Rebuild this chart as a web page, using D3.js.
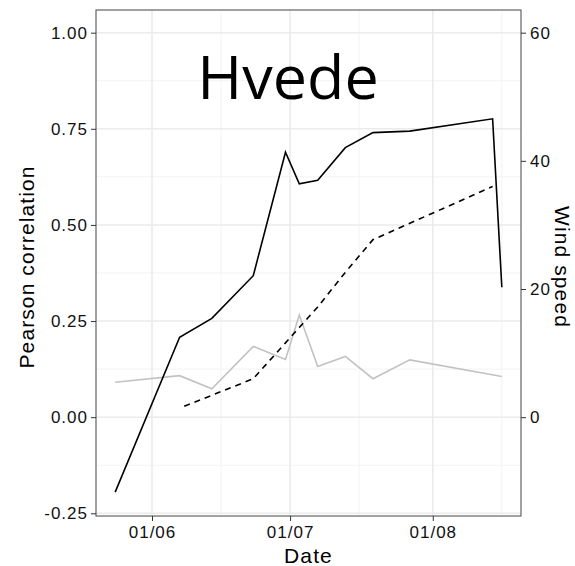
<!DOCTYPE html>
<html>
<head>
<meta charset="utf-8">
<script src="https://cdn.jsdelivr.net/npm/d3@7"></script>
<style>
  body { margin: 0; background: #fff; }
  text { font-family: "Liberation Sans", Arial, sans-serif; }
</style>
</head>
<body>
<svg id="chart" width="575" height="566"></svg>
<script>
// correlation series (left axis)
var corrDates = ["2017-05-24","2017-06-07","2017-06-14","2017-06-23","2017-06-30","2017-07-03",
                 "2017-07-07","2017-07-13","2017-07-19","2017-07-27","2017-08-14","2017-08-16"];
var corrBlack = [-0.195, 0.208, 0.257, 0.368, 0.689, 0.607, 0.616, 0.701, 0.740, 0.744, 0.776, 0.338];

var grayDates = ["2017-05-24","2017-06-07","2017-06-14","2017-06-23","2017-06-30","2017-07-03",
                 "2017-07-07","2017-07-13","2017-07-19","2017-07-27","2017-08-16"];
var corrGray = [0.091, 0.108, 0.074, 0.184, 0.150, 0.266, 0.132, 0.158, 0.100, 0.149, 0.106];

// wind speed series (right axis)
var windDates = ["2017-06-08","2017-06-23","2017-06-30","2017-07-07","2017-07-13","2017-07-19","2017-08-14"];
var windVals = [1.7, 6.0, 11.6, 17.2, 22.6, 27.7, 36.0];

var leftTicks = [-0.25, 0, 0.25, 0.5, 0.75, 1];
var leftMinor = [-0.125, 0.125, 0.375, 0.625, 0.875];
var rightTicks = [0, 20, 40, 60];
var xTicks = ["2017-06-01","2017-07-01","2017-08-01"];
var xMinor = ["2017-06-16","2017-07-16","2017-08-16"];

var parse = d3.timeParse("%Y-%m-%d");
var margin = { top: 10, left: 96, right: 54, bottom: 50 };
var width = 575 - margin.left - margin.right;
var height = 566 - margin.top - margin.bottom;

var x = d3.scaleTime()
    .domain([new Date(2017, 4, 19, 20), new Date(2017, 7, 20, 4)])
    .range([0, width]);
var y = d3.scaleLinear().domain([-0.257, 1.059]).range([height, 0]);
var y2 = d3.scaleLinear().domain([-0.257 * 60, 1.059 * 60]).range([height, 0]);

var svg = d3.select("#chart").append("g")
    .attr("transform", "translate(" + margin.left + "," + margin.top + ")");

// grid
var grid = svg.append("g");
grid.selectAll("line.ymin").data(leftMinor).enter().append("line")
    .attr("x1", 0).attr("x2", width)
    .attr("y1", function(d) { return y(d); }).attr("y2", function(d) { return y(d); })
    .attr("stroke", "#f3f3f3").attr("stroke-width", 1);
grid.selectAll("line.xmin").data(xMinor).enter().append("line")
    .attr("y1", 0).attr("y2", height)
    .attr("x1", function(d) { return x(parse(d)); }).attr("x2", function(d) { return x(parse(d)); })
    .attr("stroke", "#f3f3f3").attr("stroke-width", 1);
grid.selectAll("line.ymaj").data(leftTicks).enter().append("line")
    .attr("x1", 0).attr("x2", width)
    .attr("y1", function(d) { return y(d); }).attr("y2", function(d) { return y(d); })
    .attr("stroke", "#ebebeb").attr("stroke-width", 1.6);
grid.selectAll("line.xmaj").data(xTicks).enter().append("line")
    .attr("y1", 0).attr("y2", height)
    .attr("x1", function(d) { return x(parse(d)); }).attr("x2", function(d) { return x(parse(d)); })
    .attr("stroke", "#ebebeb").attr("stroke-width", 1.6);

// title inside panel
svg.append("text")
    .attr("x", 192).attr("y", 89)
    .attr("text-anchor", "middle")
    .style("font-family", "'Open Sans', 'Noto Sans', sans-serif")
    .style("font-size", "61px")
    .attr("fill", "#000")
    .text("Hvede");

// lines
var lineCorr = d3.line()
    .x(function(d) { return x(d.date); })
    .y(function(d) { return y(d.v); });
var lineWind = d3.line()
    .x(function(d) { return x(d.date); })
    .y(function(d) { return y2(d.v); });

var grayData = grayDates.map(function(d, i) { return { date: parse(d), v: corrGray[i] }; });
var blackData = corrDates.map(function(d, i) { return { date: parse(d), v: corrBlack[i] }; });
var windData = windDates.map(function(d, i) { return { date: parse(d), v: windVals[i] }; });

svg.append("path").attr("d", lineCorr(grayData))
    .attr("fill", "none").attr("stroke", "#c2c2c2").attr("stroke-width", 1.6);
svg.append("path").attr("d", lineWind(windData))
    .attr("fill", "none").attr("stroke", "#000").attr("stroke-width", 1.6)
    .attr("stroke-dasharray", "6,5");
svg.append("path").attr("d", lineCorr(blackData))
    .attr("fill", "none").attr("stroke", "#000").attr("stroke-width", 1.6);

// panel border
svg.append("rect")
    .attr("x", 0).attr("y", 0).attr("width", width).attr("height", height)
    .attr("fill", "none").attr("stroke", "#555").attr("stroke-width", 1.1);

// axes
function styleAxis(g) {
    g.select(".domain").remove();
    g.selectAll(".tick line").attr("stroke", "#333");
    g.selectAll(".tick text").attr("fill", "#111")
        .style("font-size", "17px")
        .style("letter-spacing", "1px")
        .style("font-family", "'Liberation Sans', Arial, sans-serif");
}

var fmt2 = d3.format(".2f");

svg.append("g")
    .attr("transform", "translate(0," + height + ")")
    .call(d3.axisBottom(x).tickValues(xTicks.map(parse)).tickFormat(d3.timeFormat("%d/%m"))
        .tickSize(5).tickPadding(5))
    .call(styleAxis);

svg.append("g")
    .call(d3.axisLeft(y).tickValues(leftTicks)
        .tickFormat(function(d) { return fmt2(d).replace("\u2212", "-"); })
        .tickSize(5).tickPadding(3))
    .call(styleAxis);

svg.append("g")
    .attr("transform", "translate(" + width + ",0)")
    .call(d3.axisRight(y2).tickValues(rightTicks).tickFormat(d3.format("d"))
        .tickSize(5).tickPadding(4))
    .call(styleAxis);

// axis titles
function titleStyle(t) {
    t.attr("text-anchor", "middle")
        .style("font-size", "21px")
        .style("letter-spacing", "1.1px")
        .attr("fill", "#000");
}

svg.append("text")
    .attr("x", width / 2).attr("y", height + 47)
    .call(titleStyle)
    .text("Date");

svg.append("text")
    .attr("transform", "translate(" + (34 - margin.left) + "," + 257 + ") rotate(-90)")
    .call(titleStyle)
    .text("Pearson correlation");

svg.append("text")
    .attr("transform", "translate(" + (555 - margin.left) + "," + 257 + ") rotate(90)")
    .call(titleStyle)
    .text("Wind speed");
</script>
</body>
</html>
